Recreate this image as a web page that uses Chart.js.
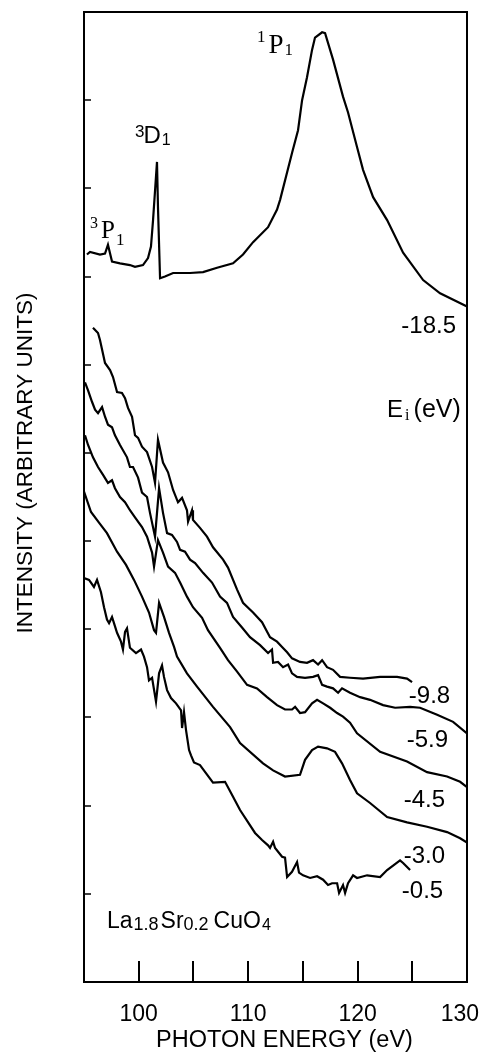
<!DOCTYPE html>
<html>
<head>
<meta charset="utf-8">
<script src="https://cdn.jsdelivr.net/npm/chart.js@4.4.1/dist/chart.umd.min.js"></script>
<style>
  html, body { margin: 0; padding: 0; background: #fff; }
  canvas { display: block; }
</style>
</head>
<body>
<canvas id="resonance" width="482" height="1061"></canvas>
<script>
  // photon energy (eV) / intensity (arb. units, offset) for each initial-state energy Ei
  const energyM185 = [95.27, 95.55, 96.46, 96.92, 97.19, 97.56, 98.29, 99.20, 99.66, 100.39, 100.85, 101.12, 101.31, 101.67, 101.76, 101.95, 102.40, 103.14, 104.69, 105.88, 107.16, 108.62, 109.53, 110.45, 111.82, 112.64, 112.92, 114.01, 114.56, 114.93, 115.38, 115.84, 116.11, 116.76, 117.03, 117.76, 118.67, 119.13, 119.95, 120.50, 121.42, 122.70, 124.16, 125.99, 127.54, 130.0];
  const intensityM185 = [8.25, 8.28, 8.25, 8.26, 8.36, 8.17, 8.15, 8.13, 8.11, 8.13, 8.21, 8.34, 8.64, 9.30, 8.79, 7.98, 8.00, 8.04, 8.04, 8.05, 8.10, 8.15, 8.25, 8.39, 8.56, 8.76, 8.87, 9.40, 9.66, 10.00, 10.26, 10.57, 10.71, 10.77, 10.76, 10.46, 10.04, 9.86, 9.47, 9.21, 8.90, 8.64, 8.27, 7.96, 7.81, 7.66];

  const energyM98 = [95.82, 96.28, 96.46, 96.92, 97.38, 97.65, 98.02, 98.47, 98.75, 99.02, 99.39, 99.66, 99.94, 100.30, 100.76, 101.22, 101.49, 101.76, 102.22, 102.68, 103.14, 103.59, 103.96, 104.41, 104.51, 104.87, 104.96, 105.60, 106.24, 106.79, 107.71, 108.16, 108.99, 109.53, 110.45, 111.27, 112.00, 112.64, 113.10, 113.56, 114.01, 114.74, 115.38, 115.93, 116.39, 116.76, 117.21, 117.76, 118.40, 119.31, 120.50, 122.06, 123.61, 124.52, 124.98];
  const intensityM98 = [7.42, 7.36, 7.28, 7.02, 6.94, 6.86, 6.69, 6.68, 6.62, 6.51, 6.41, 6.20, 6.17, 6.07, 6.01, 5.84, 5.66, 6.15, 5.89, 5.78, 5.58, 5.44, 5.49, 5.35, 5.22, 5.35, 5.24, 5.15, 5.05, 4.93, 4.79, 4.70, 4.45, 4.30, 4.19, 4.08, 3.91, 3.86, 3.80, 3.74, 3.67, 3.63, 3.62, 3.65, 3.60, 3.65, 3.57, 3.54, 3.46, 3.45, 3.44, 3.46, 3.46, 3.44, 3.40];

  const energyM59 = [95.09, 95.37, 95.73, 96.01, 96.28, 96.65, 96.92, 97.19, 97.56, 97.83, 98.29, 98.93, 99.20, 99.48, 99.94, 100.30, 100.76, 101.03, 101.49, 101.86, 102.22, 102.59, 103.04, 103.50, 103.78, 104.23, 104.69, 105.15, 105.88, 106.70, 107.43, 108.07, 108.62, 109.44, 110.17, 111.09, 111.82, 112.18, 112.28, 112.73, 113.19, 113.65, 114.01, 114.47, 115.20, 115.93, 116.39, 116.76, 117.21, 117.76, 118.22, 118.58, 119.31, 120.23, 121.14, 122.33, 123.43, 124.80, 125.71, 127.27, 128.73, 130.0];
  const intensityM59 = [6.80, 6.71, 6.58, 6.49, 6.45, 6.52, 6.41, 6.32, 6.29, 6.20, 6.09, 5.95, 5.84, 5.84, 5.72, 5.55, 5.50, 5.32, 5.05, 5.60, 5.32, 5.09, 5.07, 4.99, 4.90, 4.88, 4.79, 4.75, 4.64, 4.53, 4.37, 4.30, 4.14, 4.02, 3.91, 3.82, 3.73, 3.77, 3.62, 3.63, 3.57, 3.60, 3.50, 3.46, 3.45, 3.46, 3.48, 3.37, 3.35, 3.33, 3.28, 3.33, 3.28, 3.23, 3.20, 3.14, 3.11, 3.12, 3.11, 3.03, 2.95, 2.82];

  const energyM45 = [95.09, 95.37, 95.82, 96.28, 96.74, 97.19, 97.56, 97.83, 98.29, 98.75, 99.20, 99.66, 100.30, 100.76, 101.22, 101.40, 101.76, 102.22, 102.68, 103.32, 103.78, 104.41, 104.96, 105.79, 106.33, 107.43, 108.16, 108.99, 109.90, 110.81, 111.73, 112.64, 113.37, 114.01, 114.29, 114.74, 115.20, 115.84, 116.30, 116.85, 117.49, 118.13, 118.67, 119.31, 119.95, 122.06, 124.52, 126.35, 128.18, 129.37, 130.0];
  const intensityM45 = [6.20, 6.09, 5.95, 5.84, 5.75, 5.66, 5.69, 5.60, 5.50, 5.44, 5.35, 5.27, 5.16, 5.05, 4.87, 4.71, 5.01, 4.87, 4.71, 4.64, 4.53, 4.37, 4.25, 4.13, 3.99, 3.79, 3.65, 3.52, 3.37, 3.33, 3.23, 3.14, 3.09, 3.09, 3.12, 3.05, 3.06, 3.16, 3.20, 3.16, 3.11, 3.05, 3.01, 2.94, 2.82, 2.61, 2.50, 2.38, 2.33, 2.27, 2.21];

  const energyM30 = [95.00, 95.64, 96.37, 97.10, 98.02, 98.84, 99.57, 100.30, 100.94, 101.40, 101.58, 101.86, 102.31, 102.77, 103.23, 103.50, 104.41, 105.33, 106.79, 108.35, 109.26, 111.36, 112.28, 113.37, 114.74, 115.20, 115.84, 116.39, 117.21, 117.94, 118.58, 119.31, 119.95, 121.14, 122.70, 124.52, 126.35, 128.18, 129.37, 130.0];
  const intensityM30 = [5.56, 5.33, 5.21, 5.09, 4.88, 4.73, 4.56, 4.37, 4.19, 3.99, 3.96, 4.30, 4.14, 3.96, 3.80, 3.69, 3.50, 3.35, 3.12, 2.89, 2.71, 2.48, 2.40, 2.33, 2.35, 2.52, 2.63, 2.67, 2.65, 2.61, 2.48, 2.29, 2.14, 2.03, 1.87, 1.81, 1.76, 1.70, 1.63, 1.58];

  const energyM05 = [95.00, 95.46, 95.91, 96.19, 96.55, 96.83, 97.10, 97.29, 97.56, 97.74, 98.02, 98.38, 98.56, 98.75, 98.93, 99.20, 99.75, 100.21, 100.48, 100.76, 100.94, 101.22, 101.58, 101.86, 102.13, 102.31, 102.59, 102.95, 103.41, 103.87, 103.96, 104.14, 104.32, 104.60, 104.78, 105.05, 105.60, 106.79, 107.89, 108.62, 109.26, 110.63, 111.27, 111.82, 112.00, 112.28, 112.46, 113.10, 113.37, 113.56, 114.01, 114.47, 114.65, 115.02, 115.66, 116.30, 116.85, 117.30, 117.67, 118.13, 118.31, 118.67, 118.86, 119.13, 119.59, 119.95, 120.87, 122.06, 122.70, 123.88, 124.16, 124.80];
  const intensityM05 = [4.58, 4.56, 4.48, 4.56, 4.42, 4.25, 4.11, 4.07, 4.14, 4.07, 3.96, 3.86, 3.77, 3.97, 4.01, 3.79, 3.73, 3.77, 3.69, 3.57, 3.42, 3.45, 3.18, 3.50, 3.59, 3.46, 3.31, 3.22, 3.16, 3.08, 2.88, 3.06, 2.86, 2.63, 2.57, 2.49, 2.46, 2.26, 2.27, 2.10, 1.95, 1.69, 1.61, 1.55, 1.52, 1.59, 1.52, 1.42, 1.41, 1.19, 1.25, 1.36, 1.24, 1.21, 1.18, 1.20, 1.16, 1.10, 1.12, 1.12, 1.01, 1.10, 1.01, 1.12, 1.21, 1.18, 1.21, 1.19, 1.27, 1.38, 1.35, 1.27];

  const initialEnergies = ['-18.5', '-9.8', '-5.9', '-4.5', '-3.0', '-0.5'];
  // where each Ei label sits: right edge (eV) and baseline (intensity)
  const eiLabelX = [129.0, 128.46, 128.27, 128.0, 128.0, 127.82];
  const eiLabelY = [7.36, 3.16, 2.67, 1.99, 1.35, 0.95];

  const energyTicks = [100, 110, 120, 130];

  const curves = [
    [energyM185, intensityM185],
    [energyM98, intensityM98],
    [energyM59, intensityM59],
    [energyM45, intensityM45],
    [energyM30, intensityM30],
    [energyM05, intensityM05]
  ];

  const SANS = '"Liberation Sans", Arial, sans-serif';
  const SERIF = '"Liberation Serif", "Times New Roman", serif';

  // multiplet names and other annotations, drawn piece by piece for sub/superscripts
  // each part: [text, font, baseline shift, gap after]
  const annotations = [
    { x: 110.81, y: 10.54, parts: [['1', '17px ' + SERIF, -11, 3], ['P', '27px ' + SERIF, 0, 1], ['1', '17px ' + SERIF, 2, 0]] },
    { x: 99.66, y: 9.52, parts: [['3', '17px ' + SANS, -6, -1], ['D', '24px ' + SANS, 0, 1], ['1', '16px ' + SANS, 2, 0]] },
    { x: 95.55, y: 8.44, parts: [['3', '16px ' + SERIF, -10, 3], ['P', '25px ' + SERIF, 0, 1], ['1', '17px ' + SERIF, 7, 0]] },
    { x: 122.70, y: 6.41, parts: [['E', '24px ' + SANS, 0, 2], ['i', '16px ' + SERIF, 3, 4], ['(eV)', '25px ' + SANS, 0, 0]] },
    { x: 97.10, y: 0.61, parts: [['La', '23px ' + SANS, 0, 1], ['1.8', '18px ' + SANS, 2, 2], ['Sr', '23px ' + SANS, 0, 0], ['0.2', '18px ' + SANS, 2, 5], ['CuO', '23px ' + SANS, 0, 1], ['4', '16px ' + SANS, 2, 0]] }
  ];

  function drawParts(ctx, x, y, parts) {
    let cx = x;
    parts.forEach(function (p) {
      ctx.font = p[1];
      ctx.fillText(p[0], cx, y + p[2]);
      cx += ctx.measureText(p[0]).width + p[3];
    });
  }

  // box frame, inward ticks, axis text and curve labels
  const framePlugin = {
    id: 'frame',
    afterDraw(chart) {
      const ctx = chart.ctx;
      const a = chart.chartArea;
      const xs = chart.scales.x, ys = chart.scales.y;
      ctx.save();
      ctx.strokeStyle = '#000';
      ctx.fillStyle = '#000';

      ctx.lineWidth = 2;
      ctx.strokeRect(a.left, a.top, a.right - a.left, a.bottom - a.top);

      ctx.beginPath();
      xs.ticks.forEach(function (t) {
        if (t.value <= xs.min || t.value >= xs.max) return;
        const px = Math.round(xs.getPixelForValue(t.value));
        ctx.moveTo(px, a.bottom);
        ctx.lineTo(px, a.bottom - 21);
      });
      ctx.stroke();

      ctx.lineWidth = 1.5;
      ctx.beginPath();
      ys.ticks.forEach(function (t) {
        if (t.value <= ys.min || t.value >= ys.max) return;
        const py = Math.round(ys.getPixelForValue(t.value));
        ctx.moveTo(a.left, py);
        ctx.lineTo(a.left + 7, py);
      });
      ctx.stroke();

      // tick labels, kept inside the canvas
      ctx.font = '23px ' + SANS;
      ctx.textBaseline = 'alphabetic';
      ctx.textAlign = 'center';
      energyTicks.forEach(function (v) {
        const label = String(v);
        const w = ctx.measureText(label).width;
        let px = xs.getPixelForValue(v);
        px = Math.min(px, chart.width - 3 - w / 2);
        ctx.fillText(label, px, a.bottom + 39);
      });

      ctx.font = '23.5px ' + SANS;
      ctx.fillText('PHOTON ENERGY (eV)', (a.left + a.right) / 2 + 9, a.bottom + 65);

      ctx.save();
      ctx.font = '22.5px ' + SANS;
      ctx.translate(32, (a.top + a.bottom) / 2 - 34);
      ctx.rotate(-Math.PI / 2);
      ctx.fillText('INTENSITY (ARBITRARY UNITS)', 0, 0);
      ctx.restore();

      ctx.textAlign = 'right';
      ctx.font = '24px ' + SANS;
      initialEnergies.forEach(function (label, i) {
        ctx.fillText(label, xs.getPixelForValue(eiLabelX[i]), ys.getPixelForValue(eiLabelY[i]));
      });

      ctx.textAlign = 'left';
      annotations.forEach(function (n) {
        drawParts(ctx, xs.getPixelForValue(n.x), ys.getPixelForValue(n.y), n.parts);
      });
      ctx.restore();
    }
  };

  new Chart(document.getElementById('resonance'), {
    type: 'scatter',
    data: {
      datasets: curves.map(function (c, i) {
        return {
          label: initialEnergies[i],
          data: c[0].map(function (e, j) { return { x: e, y: c[1][j] }; }),
          showLine: true,
          borderColor: '#000',
          borderWidth: 2.2,
          pointRadius: 0,
          tension: 0,
          fill: false
        };
      })
    },
    options: {
      responsive: false,
      animation: false,
      devicePixelRatio: 1,
      layout: { padding: { top: 12, right: 0, bottom: 0, left: 0 } },
      plugins: { legend: { display: false }, tooltip: { enabled: false } },
      scales: {
        x: {
          type: 'linear', min: 95, max: 130,
          ticks: { display: false, stepSize: 5 },
          grid: { display: false }, border: { display: false },
          afterFit(s) { s.height = 79; s.paddingLeft = 0; s.paddingRight = 15; }
        },
        y: {
          type: 'linear', min: 0, max: 11,
          ticks: { display: false, stepSize: 1 },
          grid: { display: false }, border: { display: false },
          afterFit(s) { s.width = 84; s.paddingTop = 0; s.paddingBottom = 0; }
        }
      }
    },
    plugins: [framePlugin]
  });
</script>
</body>
</html>
